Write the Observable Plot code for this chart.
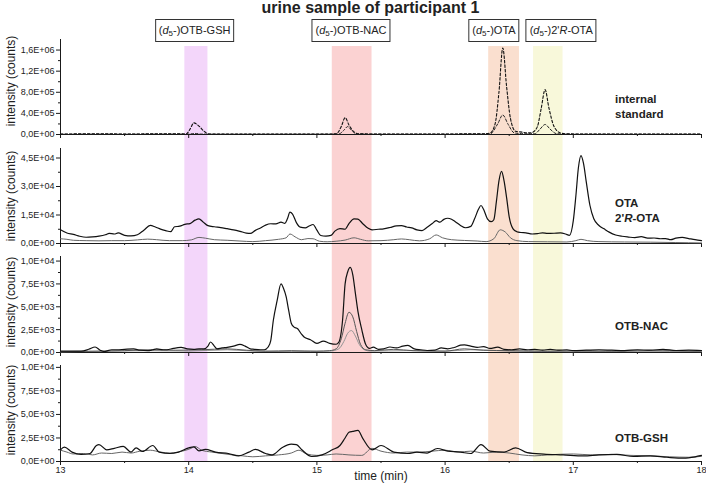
<!DOCTYPE html>
<html>
<head>
<meta charset="utf-8">
<script src="https://cdn.jsdelivr.net/npm/d3@7"></script>
<script src="https://cdn.jsdelivr.net/npm/@observablehq/plot@0.6"></script>
<style>
  html, body { margin: 0; padding: 0; background: #fff; }
  #chart { position: relative; width: 706px; height: 487px; font-family: "Liberation Sans", Arial, sans-serif; color: #222; background: #fff; overflow: hidden; }
  #chart svg { position: absolute; left: 0; }
  .title { position: absolute; top: 0px; left: 0; width: 741px; text-align: center; font-weight: bold; font-size: 16px; line-height: 16px; white-space: nowrap; }
  .box { position: absolute; top: 19px; height: 21px; line-height: 21px; border: 1px solid #333; background: #fff; font-size: 11px; padding: 0 3px; white-space: nowrap; transform: translateX(-50%); }
  .box sub { font-size: 8px; line-height: 0; vertical-align: -2px; }
  .rlab { position: absolute; left: 615px; font-weight: bold; font-size: 11.5px; line-height: 14.5px; white-space: nowrap; }
  .ylab { position: absolute; left: 11px; font-size: 12px; line-height: 14px; white-space: nowrap; transform: translate(-50%, -50%) rotate(-90deg); }
</style>
</head>
<body>
<div id="chart"></div>
<script>
// ---------------- DATA ----------------
const xTicks = [13, 14, 15, 16, 17, 18];
const xMinorTicks = [13.5, 14.5, 15.5, 16.5, 17.5];

const bandNames = ["OTB-GSH", "OTB-NAC", "OTA", "2'R-OTA"];
const bandStart = [13.97, 15.12, 16.34, 16.69];
const bandEnd   = [14.15, 15.43, 16.58, 16.92];
const boxCenter = [14.05, 15.27, 16.385, 16.91];

const isTicks = [0, 4e5, 8e5, 1.2e6, 1.6e6];
const isMinor = [2e5, 6e5, 1e6, 1.4e6];
const otaTicks = [0, 1.5e4, 3e4, 4.5e4];
const otaMinor = [7.5e3, 2.25e4, 3.75e4];
const otbTicks = [0, 2500, 5000, 7500, 10000];
const otbMinor = [1250, 3750, 6250, 8750];

// internal standard traces (dashed)
const isMain = [[13.00,8000],[13.15,12000],[13.30,15000],[13.50,9000],[13.70,12000],[13.90,15000],[13.98,10000],[14.01,100000],[14.04,220000],[14.08,160000],[14.12,60000],[14.16,10000],[14.40,8000],[14.80,9000],[15.10,10000],[15.15,12000],[15.19,150000],[15.22,320000],[15.25,180000],[15.29,50000],[15.33,12000],[15.60,9000],[16.00,10000],[16.30,15000],[16.35,25000],[16.39,200000],[16.42,800000],[16.45,1640000],[16.48,900000],[16.51,300000],[16.55,60000],[16.60,45000],[16.65,30000],[16.68,40000],[16.72,150000],[16.75,500000],[16.78,850000],[16.81,500000],[16.85,150000],[16.90,30000],[16.95,12000],[17.20,9000],[17.60,8000],[18.00,7000]];
const isQual = [[13.00,5000],[13.50,6000],[14.00,8000],[14.05,20000],[14.10,8000],[14.50,5000],[15.00,6000],[15.17,8000],[15.21,80000],[15.24,150000],[15.27,80000],[15.31,10000],[15.60,5000],[16.00,6000],[16.35,10000],[16.41,200000],[16.45,370000],[16.49,200000],[16.54,30000],[16.62,15000],[16.70,15000],[16.74,100000],[16.78,190000],[16.82,100000],[16.87,15000],[17.00,6000],[17.50,5000],[18.00,5000]];

// OTA / 2'R-OTA traces
const otaTrace = [[13.00,7200],[13.05,5500],[13.10,4800],[13.15,3800],[13.20,3300],[13.25,3500],[13.30,3900],[13.35,4600],[13.38,5300],[13.42,5000],[13.45,5600],[13.50,4300],[13.55,4000],[13.60,4600],[13.65,7000],[13.70,9500],[13.74,8700],[13.78,7600],[13.82,6800],[13.86,6200],[13.89,8800],[13.93,9100],[13.97,10100],[14.01,10500],[14.05,12300],[14.08,13000],[14.11,11500],[14.15,9400],[14.20,8800],[14.25,8400],[14.30,7800],[14.35,7200],[14.40,6400],[14.45,5500],[14.48,5300],[14.52,6900],[14.56,8200],[14.60,9700],[14.64,10400],[14.68,10300],[14.72,11200],[14.75,10600],[14.77,13000],[14.79,16500],[14.81,15500],[14.84,11000],[14.87,8600],[14.91,8200],[14.94,9200],[14.97,10000],[15.00,7000],[15.03,4200],[15.07,3900],[15.11,4300],[15.14,6500],[15.18,7800],[15.22,7500],[15.25,10500],[15.29,13000],[15.32,12800],[15.36,10300],[15.40,8000],[15.43,7200],[15.48,7500],[15.52,7700],[15.57,8400],[15.62,9300],[15.66,9400],[15.70,8700],[15.74,8200],[15.78,7200],[15.82,6800],[15.86,8500],[15.90,10500],[15.93,12000],[15.96,11200],[15.99,12700],[16.02,13300],[16.05,12800],[16.08,11500],[16.12,9500],[16.16,8300],[16.20,9000],[16.23,13000],[16.26,18000],[16.28,20000],[16.30,18000],[16.33,13000],[16.36,11500],[16.38,12500],[16.40,22000],[16.42,33000],[16.44,38000],[16.46,33000],[16.48,24000],[16.50,14000],[16.53,7700],[16.56,6200],[16.59,5800],[16.63,5600],[16.68,5000],[16.72,5200],[16.76,5600],[16.80,5300],[16.85,5400],[16.90,5600],[16.94,5000],[16.97,4300],[17.00,12000],[17.02,25000],[17.04,40000],[17.06,46300],[17.08,42000],[17.10,33000],[17.13,20000],[17.16,13000],[17.20,9500],[17.24,7700],[17.28,6000],[17.33,4500],[17.38,3800],[17.43,3400],[17.48,3100],[17.53,3600],[17.58,2800],[17.63,2900],[17.68,2500],[17.72,2600],[17.76,2000],[17.80,2800],[17.85,3200],[17.90,2600],[17.95,2000],[18.00,1500]];
const otaQual = [[13.00,2500],[13.05,2200],[13.10,1700],[13.20,1500],[13.30,1400],[13.40,1500],[13.50,1500],[13.60,1900],[13.68,2300],[13.75,2000],[13.85,1500],[13.95,1500],[14.02,1900],[14.08,3200],[14.13,2800],[14.20,2000],[14.30,1700],[14.40,1300],[14.50,1000],[14.60,1500],[14.70,2200],[14.76,3000],[14.79,5000],[14.83,3500],[14.88,2000],[14.93,2600],[14.97,2500],[15.02,1200],[15.08,900],[15.15,1200],[15.22,1800],[15.29,3000],[15.34,2200],[15.40,1400],[15.50,1500],[15.60,2000],[15.66,2400],[15.72,2000],[15.80,1400],[15.88,2500],[15.93,4500],[15.98,3000],[16.05,2000],[16.15,1600],[16.25,1300],[16.32,1000],[16.38,2500],[16.43,7200],[16.47,6000],[16.51,3000],[16.56,1500],[16.65,1000],[16.80,900],[16.95,800],[17.02,1500],[17.06,2200],[17.11,1500],[17.20,1000],[17.40,800],[17.60,700],[17.80,500],[18.00,300]];

// OTB-NAC traces
const nacQuant = [[13.00,150],[13.08,150],[13.16,150],[13.22,350],[13.27,600],[13.31,250],[13.34,100],[13.40,300],[13.44,300],[13.50,350],[13.57,400],[13.62,250],[13.68,200],[13.72,300],[13.75,400],[13.80,300],[13.83,300],[13.88,450],[13.94,550],[13.99,400],[14.04,350],[14.08,400],[14.12,400],[14.15,700],[14.17,1150],[14.20,700],[14.22,400],[14.26,500],[14.30,560],[14.35,700],[14.40,880],[14.44,700],[14.48,400],[14.51,350],[14.56,300],[14.59,300],[14.62,600],[14.64,1300],[14.66,3500],[14.69,5700],[14.72,7500],[14.74,7000],[14.76,6100],[14.78,4600],[14.80,3200],[14.82,2800],[14.85,2600],[14.88,2000],[14.90,1700],[14.95,1400],[15.00,1000],[15.05,1250],[15.10,1000],[15.15,900],[15.17,1100],[15.20,3500],[15.22,7500],[15.24,8800],[15.26,9300],[15.28,8500],[15.30,6500],[15.32,4500],[15.35,2500],[15.38,900],[15.41,450],[15.44,580],[15.48,350],[15.52,400],[15.57,600],[15.62,500],[15.67,700],[15.71,770],[15.76,400],[15.81,300],[15.86,220],[15.92,250],[15.97,500],[16.02,400],[16.07,550],[16.12,800],[16.15,840],[16.20,700],[16.25,550],[16.30,650],[16.35,450],[16.41,580],[16.46,350],[16.52,300],[16.58,400],[16.64,300],[16.70,350],[16.76,250],[16.82,350],[16.88,250],[16.95,300],[17.00,200],[17.10,250],[17.20,300],[17.30,250],[17.40,200],[17.50,300],[17.60,250],[17.70,350],[17.80,220],[17.90,250],[18.00,220]];
const nacQual1 = [[13.00,100],[13.30,150],[13.50,200],[13.70,300],[13.90,250],[14.10,300],[14.30,400],[14.45,250],[14.60,150],[14.80,200],[15.00,150],[15.10,200],[15.15,400],[15.19,1500],[15.22,3200],[15.25,4400],[15.28,3900],[15.31,2300],[15.34,900],[15.38,300],[15.45,200],[15.60,350],[15.75,200],[16.00,150],[16.15,400],[16.30,250],[16.50,200],[16.80,150],[17.00,200],[17.30,150],[17.60,200],[18.00,150]];
const nacQual2 = [[13.00,80],[13.40,150],[13.70,200],[14.00,150],[14.30,300],[14.50,150],[14.80,100],[15.10,150],[15.17,400],[15.21,1200],[15.24,2100],[15.27,2400],[15.30,1800],[15.33,900],[15.37,300],[15.42,150],[15.70,200],[16.00,150],[16.20,300],[16.50,150],[17.00,100],[17.50,150],[18.00,100]];

// OTB-GSH traces
const gshQuant = [[13.00,1240],[13.03,1520],[13.09,1000],[13.16,750],[13.23,850],[13.28,1700],[13.30,1800],[13.36,1240],[13.42,1400],[13.49,1600],[13.55,1000],[13.59,1450],[13.64,1060],[13.72,1700],[13.77,1000],[13.85,850],[13.92,1000],[14.00,1450],[14.04,1560],[14.08,1130],[14.13,1280],[14.21,1000],[14.31,850],[14.39,600],[14.47,1000],[14.52,1280],[14.60,850],[14.65,700],[14.73,1490],[14.80,1840],[14.84,1800],[14.88,1280],[14.96,530],[15.04,700],[15.12,1240],[15.18,1700],[15.22,2500],[15.25,3100],[15.28,3200],[15.32,3300],[15.36,2400],[15.43,1240],[15.50,1700],[15.60,1000],[15.71,850],[15.78,1000],[15.86,900],[15.94,1380],[16.02,1100],[16.12,1000],[16.20,850],[16.28,1800],[16.35,1100],[16.46,1000],[16.55,1450],[16.64,940],[16.77,780],[16.92,700],[17.08,600],[17.20,700],[17.34,750],[17.47,530],[17.60,600],[17.73,450],[17.86,350],[17.95,500],[18.00,650]];
const gshQual = [[13.00,1200],[13.05,1000],[13.10,800],[13.18,850],[13.25,700],[13.32,900],[13.40,850],[13.48,1000],[13.55,900],[13.62,1100],[13.70,1200],[13.78,1000],[13.86,900],[13.95,1100],[14.02,1400],[14.05,1600],[14.10,1200],[14.18,1000],[14.26,850],[14.34,700],[14.42,600],[14.50,500],[14.60,600],[14.70,700],[14.80,900],[14.86,1200],[14.92,800],[15.00,650],[15.08,700],[15.15,800],[15.25,700],[15.35,650],[15.43,1400],[15.50,1100],[15.60,900],[15.70,1000],[15.80,1000],[15.90,1100],[16.00,1200],[16.10,1000],[16.20,1100],[16.30,900],[16.40,1000],[16.50,900],[16.60,700],[16.70,600],[16.80,700],[17.00,800],[17.15,700],[17.30,750],[17.45,650],[17.60,600],[17.75,500],[17.90,450],[18.00,550]];

// ---------------- STYLE / LAYOUT ----------------
const bandColors = ["#f3d6fa", "#fbd2d2", "#fadfcf", "#f8f8da"];
const FONT = "'Liberation Sans', Arial, sans-serif";
const W = 706, ML = 60, MR = 5;
const axisColor = "#1a1a1a";

function sci(v) {
  if (v === 0) return "0,0E+00";
  const e = Math.floor(Math.log10(v) + 1e-9);
  const m = v / Math.pow(10, e);
  return m.toFixed(1).replace(".", ",") + "E+" + String(e).padStart(2, "0");
}

const chart = document.getElementById("chart");

// background bands
const bg = Plot.plot({
  width: W, height: 487, marginLeft: ML, marginRight: MR, marginTop: 46, marginBottom: 26,
  x: {domain: [13, 18]},
  color: {type: "identity"},
  style: {background: "transparent"},
  marks: [
    Plot.axisX({ticks: []}),
    Plot.rect(d3.range(bandStart.length), {x1: i => bandStart[i], x2: i => bandEnd[i], fill: i => bandColors[i]})
  ]
});
bg.style.top = "0px";
chart.appendChild(bg);

function panel(cfg) {
  const marks = [
    Plot.ruleX([xTicks[0]], {stroke: axisColor, strokeWidth: 1}),
    Plot.ruleY([0], {stroke: axisColor, strokeWidth: 1}),
    Plot.axisY(cfg.yTicks, {tickSize: 4, tickPadding: 2, tickFormat: sci, label: null, stroke: axisColor}),
    Plot.axisY(cfg.yMinor, {tickSize: 2, tickFormat: () => "", label: null, stroke: axisColor}),
    Plot.axisX(xTicks, {tickSize: 4, tickPadding: 1, tickFormat: cfg.last ? (d => String(d)) : (() => ""), label: null, stroke: axisColor}),
    Plot.axisX(xMinorTicks, {tickSize: 2, tickFormat: () => "", label: null, stroke: axisColor}),
    ...cfg.lines.map(l => Plot.line(l.data, {x: d => d[0], y: d => d[1], stroke: l.color, strokeWidth: l.width, strokeDasharray: l.dash, curve: "monotone-x"}))
  ];
  if (cfg.last) {
    marks.push(Plot.text(["time (min)"], {frameAnchor: "bottom", dy: 18, fontSize: 12, fill: "#222"}));
  }
  const p = Plot.plot({
    width: W, height: cfg.height, marginLeft: ML, marginRight: MR, marginTop: cfg.mt, marginBottom: cfg.mb,
    x: {domain: [13, 18]},
    y: {domain: cfg.yDomain},
    style: {background: "transparent", fontFamily: FONT, fontSize: "9px", color: "#222", overflow: "visible"},
    marks
  });
  p.style.top = cfg.top + "px";
  chart.appendChild(p);
  // y-axis title, centred on the panel frame
  const lab = document.createElement("div");
  lab.className = "ylab";
  lab.textContent = "intensity (counts)";
  lab.style.top = (cfg.top + cfg.mt + (cfg.height - cfg.mt - cfg.mb) / 2 + (cfg.labelDy || 0)) + "px";
  chart.appendChild(lab);
  return p;
}

panel({top: 18, height: 124, mt: 21, mb: 8, yDomain: [0, 1.8e6], yTicks: isTicks, yMinor: isMinor, labelDy: -6,
  lines: [
    {data: isQual, color: "#222", width: 1, dash: "2.5,2"},
    {data: isMain, color: "#111", width: 1.1, dash: "2.5,2"}
  ]});
panel({top: 140, height: 110, mt: 8, mb: 7, yDomain: [0, 5e4], yTicks: otaTicks, yMinor: otaMinor,
  lines: [
    {data: otaQual, color: "#666", width: 1},
    {data: otaTrace, color: "#111", width: 1.2}
  ]});
panel({top: 248, height: 110, mt: 8, mb: 6, yDomain: [0, 1.05e4], yTicks: otbTicks, yMinor: otbMinor, labelDy: -2,
  lines: [
    {data: nacQual2, color: "#949494", width: 1},
    {data: nacQual1, color: "#555", width: 1},
    {data: nacQuant, color: "#111", width: 1.2}
  ]});
panel({top: 355, height: 132, mt: 10, mb: 26, yDomain: [0, 1.02e4], yTicks: otbTicks, yMinor: otbMinor, last: true, labelDy: -3,
  lines: [
    {data: gshQual, color: "#666", width: 1},
    {data: gshQuant, color: "#111", width: 1.2}
  ]});

// title
const title = document.createElement("div");
title.className = "title";
title.textContent = "urine sample of participant 1";
chart.appendChild(title);

// label boxes above bands
const xs = bg.scale("x");
const boxHtml = [
  "(<i>d</i><sub>5</sub>-)OTB-GSH",
  "(<i>d</i><sub>5</sub>-)OTB-NAC",
  "(<i>d</i><sub>5</sub>-)OTA",
  "(<i>d</i><sub>5</sub>-)2'<i>R</i>-OTA"
];
boxHtml.forEach((h, i) => {
  const b = document.createElement("div");
  b.className = "box";
  b.innerHTML = h;
  b.style.left = xs.apply(boxCenter[i]) + "px";
  chart.appendChild(b);
});

// right-hand trace labels
const rightLabels = [
  {html: "internal<br>standard", top: 92},
  {html: "OTA<br>2'<i>R</i>-OTA", top: 196},
  {html: "OTB-NAC", top: 319},
  {html: "OTB-GSH", top: 431}
];
rightLabels.forEach(r => {
  const d = document.createElement("div");
  d.className = "rlab";
  d.innerHTML = r.html;
  d.style.top = r.top + "px";
  chart.appendChild(d);
});
</script>
</body>
</html>
